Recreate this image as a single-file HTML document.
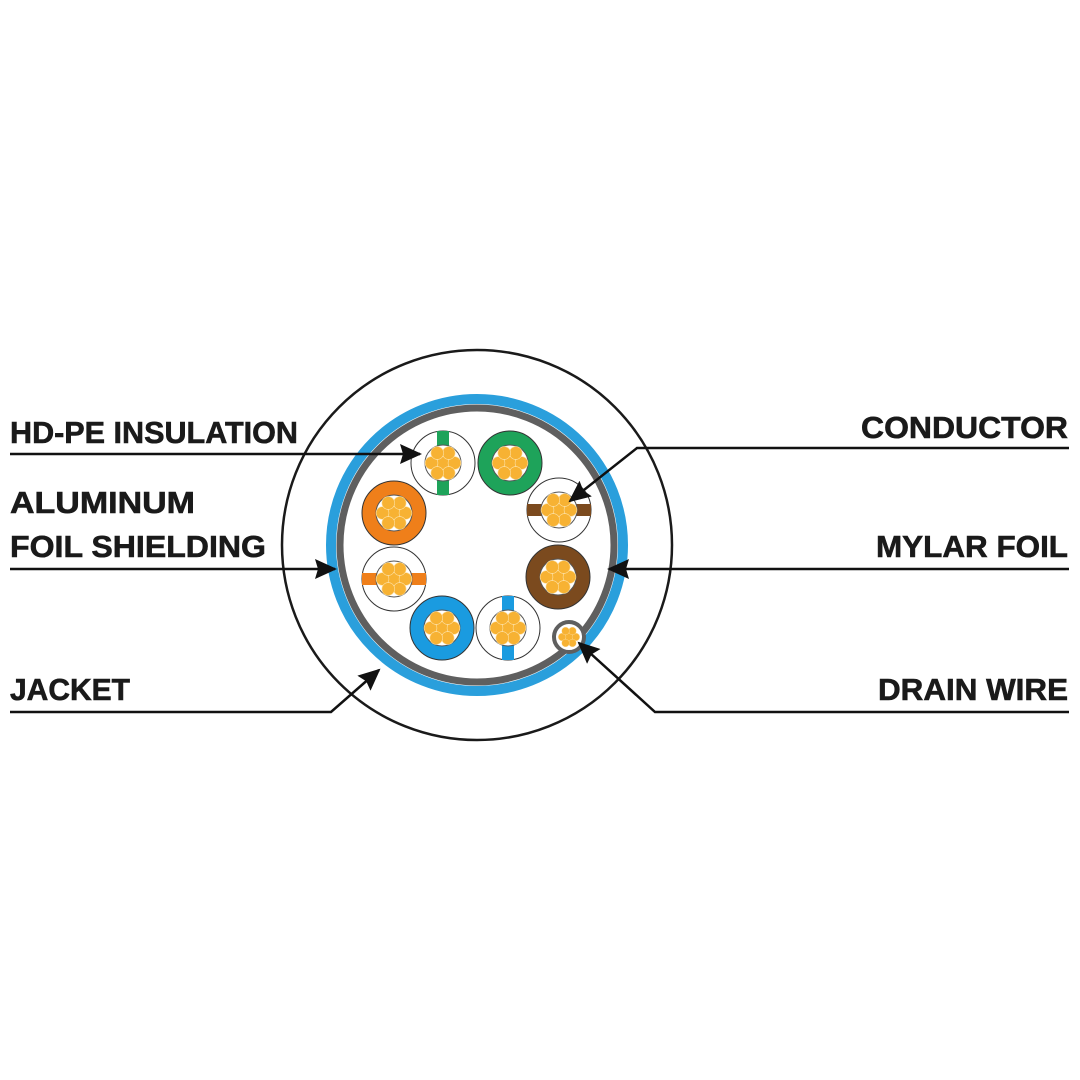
<!DOCTYPE html>
<html><head><meta charset="utf-8"><style>html,body{margin:0;padding:0;background:#fff}svg{display:block}</style></head><body>
<svg width="1080" height="1080" viewBox="0 0 1080 1080" xmlns="http://www.w3.org/2000/svg">
<defs>
<g id="strands" fill="#f7b233" stroke="#fde2a8" stroke-width="0.6">
<circle r="6.4"/><circle cx="11.5" r="6.4"/><circle cx="-11.5" r="6.4"/>
<circle cx="5.75" cy="10" r="6.4"/><circle cx="-5.75" cy="10" r="6.4"/>
<circle cx="5.75" cy="-10" r="6.4"/><circle cx="-5.75" cy="-10" r="6.4"/>
</g>
<g id="cond">
<circle r="18" fill="#fff" stroke="#555" stroke-width="1"/>
<use href="#strands"/>
</g>
<marker id="ah" markerWidth="22" markerHeight="20" refX="20" refY="10" orient="auto" markerUnits="userSpaceOnUse" viewBox="0 0 22 20"><path d="M0,0 L22,10 L0,20 L3,10 Z" fill="#111"/></marker>
</defs>
<circle cx="477" cy="545" r="195" fill="#fff" stroke="#1a1a1a" stroke-width="2.5"/>
<circle cx="477" cy="545" r="146" fill="#fff" stroke="#2a9fdc" stroke-width="10"/>
<circle cx="477" cy="545" r="137" fill="#fff" stroke="#5f5f5f" stroke-width="7"/>
<circle cx="443" cy="463" r="32" fill="#fff" stroke="#333" stroke-width="1"/>
<rect x="437" y="431" width="12" height="64" fill="#1ea35a"/>
<use href="#cond" x="443" y="463"/>
<circle cx="510" cy="463" r="32" fill="#1ea35a" stroke="#333" stroke-width="1"/>
<use href="#cond" x="510" y="463"/>
<circle cx="559" cy="510" r="32" fill="#fff" stroke="#333" stroke-width="1"/>
<rect x="527" y="504" width="64" height="12" fill="#7b4a1e"/>
<use href="#cond" x="559" y="510"/>
<circle cx="394" cy="513" r="32" fill="#ef7f1a" stroke="#333" stroke-width="1"/>
<use href="#cond" x="394" y="513"/>
<circle cx="394" cy="579" r="32" fill="#fff" stroke="#333" stroke-width="1"/>
<rect x="362" y="573" width="64" height="12" fill="#ef7f1a"/>
<use href="#cond" x="394" y="579"/>
<circle cx="558" cy="577" r="32" fill="#7b4a1e" stroke="#333" stroke-width="1"/>
<use href="#cond" x="558" y="577"/>
<circle cx="442" cy="628" r="32" fill="#1a9be0" stroke="#333" stroke-width="1"/>
<use href="#cond" x="442" y="628"/>
<circle cx="508" cy="628" r="32" fill="#fff" stroke="#333" stroke-width="1"/>
<rect x="502" y="596" width="12" height="64" fill="#1a9be0"/>
<use href="#cond" x="508" y="628"/>
<circle cx="569" cy="637" r="15" fill="#fff" stroke="#5f5f5f" stroke-width="4"/>
<use href="#strands" transform="translate(569,637) scale(0.6)"/>

<g fill="none" stroke="#111" stroke-width="2.5" marker-end="url(#ah)">
<polyline points="10,454 420,454"/>
<polyline points="1069,448 637,448 570,501"/>
<polyline points="10,569 335,569"/>
<polyline points="1069,569 609,569"/>
<polyline points="10,712 331,712 379,670"/>
<polyline points="1069,712 655,712 579,643"/>
</g>
<g font-family="Liberation Sans, sans-serif" font-weight="bold" font-size="31" fill="#1a1a1a" stroke="#1a1a1a" stroke-width="0.6">
<text x="10" y="443" textLength="288" lengthAdjust="spacingAndGlyphs">HD-PE INSULATION</text>
<text x="10" y="513" textLength="185" lengthAdjust="spacingAndGlyphs">ALUMINUM</text>
<text x="10" y="557" textLength="256" lengthAdjust="spacingAndGlyphs">FOIL SHIELDING</text>
<text x="10" y="700" textLength="120" lengthAdjust="spacingAndGlyphs">JACKET</text>
<text x="1068" y="438" text-anchor="end" textLength="207" lengthAdjust="spacingAndGlyphs">CONDUCTOR</text>
<text x="1068" y="557" text-anchor="end" textLength="192" lengthAdjust="spacingAndGlyphs">MYLAR FOIL</text>
<text x="1068" y="700" text-anchor="end" textLength="190" lengthAdjust="spacingAndGlyphs">DRAIN WIRE</text>
</g>
</svg>
</body></html>
